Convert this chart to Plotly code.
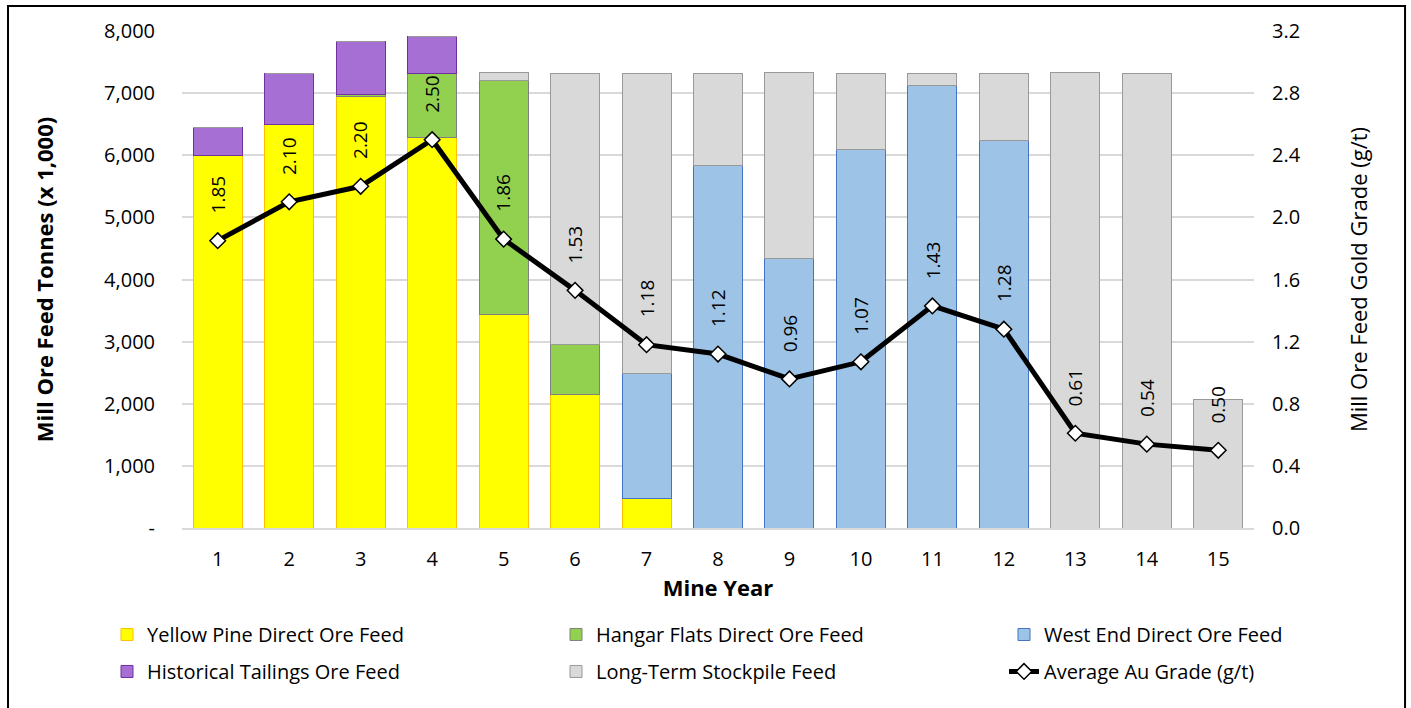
"""
Mill ore feed by source with average gold grade.
"""

import plotly.graph_objects as go

years = list(range(1, 16))

yellow_pine = [6000, 6490, 6950, 6280, 3440, 2150, 480, 0, 0, 0, 0, 0, 0, 0, 0]
hangar_flats = [0, 0, 30, 1030, 3760, 810, 0, 0, 0, 0, 0, 0, 0, 0, 0]
west_end = [0, 0, 0, 0, 0, 0, 2010, 5830, 4340, 6090, 7130, 6230, 0, 0, 0]
hist_tailings = [440, 830, 850, 600, 0, 0, 0, 0, 0, 0, 0, 0, 0, 0, 0]
stockpile = [0, 0, 0, 0, 130, 4350, 4820, 1480, 2990, 1220, 180, 1080, 7330, 7310, 2070]
au_grade = [1.85, 2.10, 2.20, 2.50, 1.86, 1.53, 1.18, 1.12, 0.96, 1.07, 1.43, 1.28, 0.61, 0.54, 0.50]

left_ticks = [0, 1000, 2000, 3000, 4000, 5000, 6000, 7000, 8000]
left_labels = ["-", "1,000", "2,000", "3,000", "4,000", "5,000", "6,000", "7,000", "8,000"]
right_ticks = [0.0, 0.4, 0.8, 1.2, 1.6, 2.0, 2.4, 2.8, 3.2]

FONT = "Open Sans"

# name, values, fill, edge, legend column
bar_series = [
    ("Yellow Pine Direct Ore Feed", yellow_pine, "#FFFF00", "#FFC000", "legend"),
    ("Hangar Flats Direct Ore Feed", hangar_flats, "#92D050", "#7F7F7F", "legend2"),
    ("West End Direct Ore Feed", west_end, "#9DC3E6", "#4472C4", "legend3"),
    ("Historical Tailings Ore Feed", hist_tailings, "#A66FD3", "#7030A0", "legend"),
    ("Long-Term Stockpile Feed", stockpile, "#D9D9D9", "#999999", "legend2"),
]

fig = go.Figure()
for name, vals, fill, edge, leg in bar_series:
    fig.add_trace(go.Bar(
        x=years,
        y=vals,
        name=name,
        legend=leg,
        legendgroup=name,
        marker=dict(color=fill, line=dict(color=edge, width=1)),
        width=0.686,
    ))

fig.add_trace(go.Scatter(
    x=years,
    y=au_grade,
    name="Average Au Grade (g/t)",
    legend="legend3",
    legendgroup="grade",
    yaxis="y2",
    mode="lines+markers",
    line=dict(color="black", width=5),
    marker=dict(symbol="diamond", size=12, color="white", line=dict(color="black", width=1.5)),
))

for yr, g in zip(years, au_grade):
    fig.add_annotation(
        x=yr, y=g, yref="y2", text=f"{g:.2f}", textangle=-90,
        showarrow=False, yanchor="bottom", yshift=25,
        font=dict(family=FONT, size=19, color="black"),
    )

# outer frame
fig.add_shape(type="rect", xref="paper", yref="paper",
              x0=-0.1623, x1=1.1409, y0=-0.40, y1=1.0503,
              line=dict(color="black", width=2))

leg_style = dict(
    orientation="v",
    yanchor="top",
    y=-0.175,
    xanchor="left",
    font=dict(family=FONT, size=20, color="black"),
    tracegroupgap=8,
    bgcolor="rgba(0,0,0,0)",
)

fig.update_layout(
    width=1411,
    height=708,
    barmode="stack",
    plot_bgcolor="white",
    paper_bgcolor="white",
    margin=dict(l=182, r=157, t=31, b=180),
    font=dict(family=FONT, size=20, color="black"),
    showlegend=True,
    xaxis=dict(
        range=[0.5, 15.5],
        tickvals=years,
        showline=True, linecolor="#D9D9D9", linewidth=2,
        ticks="",
        ticklabelstandoff=12,
        automargin=False,
        title=dict(text="<b>Mine Year</b>", font=dict(size=22), standoff=0),
    ),
    yaxis=dict(
        range=[0, 8000],
        tickvals=left_ticks,
        ticktext=left_labels,
        gridcolor="#D9D9D9", gridwidth=1.5,
        zeroline=False,
        ticks="",
        ticklabelstandoff=26,
        automargin=False,
        title=dict(text="<b>Mill Ore Feed Tonnes (x 1,000)</b>", font=dict(size=22), standoff=44),
    ),
    yaxis2=dict(
        overlaying="y",
        side="right",
        range=[0, 3.2],
        tickvals=right_ticks,
        tickformat=".1f",
        showgrid=False,
        zeroline=False,
        ticks="",
        ticklabelstandoff=17,
        automargin=False,
        title=dict(text="Mill Ore Feed Gold Grade (g/t)", font=dict(size=22), standoff=51),
    ),
    legend=dict(leg_style, x=(107 - 182) / 1072),
    legend2=dict(leg_style, x=(556 - 182) / 1072),
    legend3=dict(leg_style, x=(1004 - 182) / 1072),
)

fig.write_html(
    "out.html",
    config={"displayModeBar": False},
    post_script="document.body.style.margin = '0';",
)
